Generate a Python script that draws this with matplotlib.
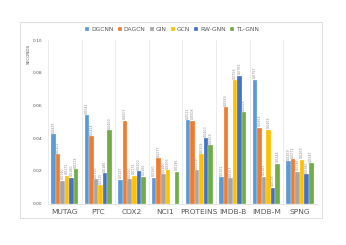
import numpy as np
import matplotlib.pyplot as plt
from matplotlib.patches import Rectangle

datasets = ['MUTAG', 'PTC', 'COX2', 'NCI1', 'PROTEINS', 'IMDB-B', 'IMDB-M', 'SPNG']
methods = ['DGCNN', 'DAGCN', 'GIN', 'GCN', 'RW-GNN', 'TL-GNN']
colors = ['#5B9BD5', '#ED7D31', '#A5A5A5', '#FFC000', '#4472C4', '#70AD47']

# seconds per dataset, one list per method (nan = no bar)
dgcnn = [0.0425, 0.0541, 0.0147, 0.0160, 0.0512, 0.0161, 0.0757, 0.0259]
dagcn = [0.0302, 0.0414, 0.0507, 0.0277, 0.0508, 0.0589, 0.0464, 0.0271]
gin = [0.0140, 0.0150, 0.0150, 0.0180, 0.0203, 0.0157, 0.0165, 0.0196]
gcn = [0.0172, 0.0115, 0.0172, 0.0206, 0.0304, 0.0756, 0.0453, 0.0269]
rwgnn = [0.0160, 0.0186, 0.0200, np.nan, 0.0400, 0.0782, 0.0098, 0.0180]
tlgnn = [0.0213, 0.0450, 0.0166, 0.0196, 0.0359, 0.0558, 0.0244, 0.0247]
series = [dgcnn, dagcn, gin, gcn, rwgnn, tlgnn]

fig = plt.figure(figsize=(3.46, 2.45), dpi=100)
fig.patches.append(Rectangle((20 / 346, 1 - 218 / 245), 302 / 346, 196 / 245,
                             transform=fig.transFigure, fill=False,
                             edgecolor='#D9D9D9', linewidth=0.6))
ax = fig.add_axes([48 / 346, 1 - 203.7 / 245, 268.7 / 346, 163.7 / 245])

x = np.arange(len(datasets))
w = 0.135
for i, (vals, c, name) in enumerate(zip(series, colors, methods)):
    pos = x + (i - 2.5) * w
    ax.bar(pos, vals, width=w, color=c, label=name,
           edgecolor='white', linewidth=0.2)
    for xp, v in zip(pos, vals):
        if np.isnan(v):
            continue
        ax.text(xp, v + 0.0008, '%.4f' % v, rotation=90, ha='center',
                va='bottom', fontsize=2.3, color='#8C8C8C')

ax.set_xlim(-0.5, len(datasets) - 0.5)
ax.set_ylim(0, 0.10)
ticks = np.arange(0, 0.101, 0.02)
ax.set_yticks(ticks)
ax.set_yticklabels(['%.2f' % t for t in ticks], fontsize=3.2, color='#595959')
ax.set_xticks(x)
ax.set_xticklabels(datasets, fontsize=5.4, color='#595959')
ax.tick_params(length=0, pad=4)
ax.tick_params(axis='x', pad=4)
for k in range(len(datasets) + 1):
    ax.axvline(k - 0.5, color='#E3E3E3', linewidth=0.5, zorder=0)
for s in ['top', 'right', 'left']:
    ax.spines[s].set_visible(False)
ax.spines['bottom'].set_color('#D9D9D9')
ax.spines['bottom'].set_linewidth(0.5)

fig.text(29 / 346, 1 - 44 / 245, 'SECONDS', rotation=90, ha='center', va='top',
         fontsize=3, color='#595959')

fig.legend(loc='center', bbox_to_anchor=(172 / 346, 1 - 29.5 / 245), ncol=6,
           frameon=False, fontsize=4.3, handlelength=0.7, handleheight=0.7,
           handletextpad=0.3, columnspacing=0.7, labelcolor='#595959')

fig.savefig('out.png', dpi=100)
